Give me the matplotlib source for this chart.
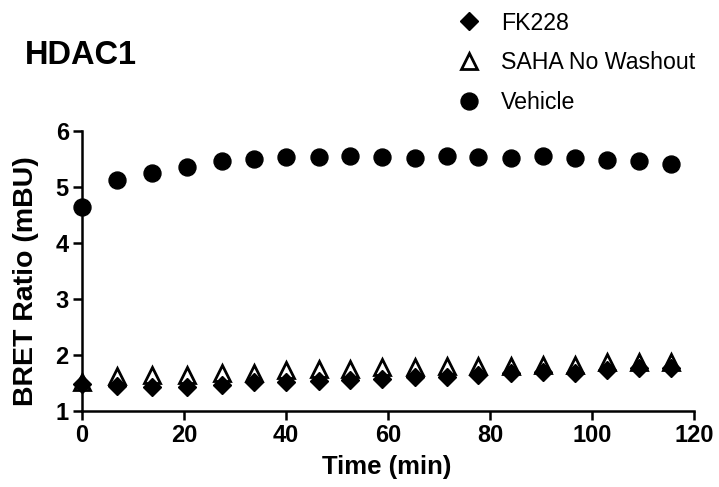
import matplotlib
matplotlib.use("Agg")
import matplotlib.pyplot as plt
from matplotlib.lines import Line2D

plt.rcParams['font.family'] = ['Liberation Sans', 'DejaVu Sans']

# data
time_min = [0, 6.9, 13.7, 20.6, 27.4, 33.8, 40.0, 46.4, 52.6, 58.9,
            65.3, 71.5, 77.7, 84.1, 90.4, 96.6, 102.9, 109.2, 115.5]
fk228 = [1.49, 1.45, 1.43, 1.43, 1.46, 1.51, 1.52, 1.53, 1.55, 1.58,
         1.61, 1.61, 1.65, 1.67, 1.70, 1.67, 1.73, 1.77, 1.77]
saha = [1.51, 1.62, 1.65, 1.65, 1.68, 1.68, 1.73, 1.75, 1.75, 1.79,
        1.79, 1.81, 1.81, 1.81, 1.83, 1.83, 1.87, 1.87, 1.87]
vehicle = [4.65, 5.12, 5.25, 5.36, 5.46, 5.50, 5.54, 5.53, 5.545, 5.53,
           5.52, 5.56, 5.53, 5.51, 5.55, 5.52, 5.49, 5.46, 5.41]

x_ticks = [0, 20, 40, 60, 80, 100, 120]
y_ticks = [1, 2, 3, 4, 5, 6]

W, H = 719, 487
fig = plt.figure(figsize=(W / 100, H / 100), dpi=100)
ax = fig.add_axes([82 / W, 1 - 411 / H, (694 - 82) / W, (411 - 131) / H])

# triangles first, diamonds on top, then circles
ax.plot(time_min, saha, linestyle='none', marker='^', ms=12,
        mfc='white', mec='black', mew=2, clip_on=False, zorder=3)
ax.plot(time_min, fk228, linestyle='none', marker='D', ms=9,
        mfc='black', mec='black', clip_on=False, zorder=4)
ax.plot(time_min, vehicle, linestyle='none', marker='o', ms=12.2,
        mfc='black', mec='black', clip_on=False, zorder=5)

ax.set_xlim(0, 120)
ax.set_ylim(1, 6)
ax.set_xticks(x_ticks)
ax.set_yticks(y_ticks)
for s in ['top', 'right']:
    ax.spines[s].set_visible(False)
for s in ['left', 'bottom']:
    ax.spines[s].set_linewidth(1.8)
ax.tick_params(axis='both', width=1.8, length=6.5, labelsize=17, pad=3)
for lab in ax.get_xticklabels() + ax.get_yticklabels():
    lab.set_fontweight('bold')

fig.text(26 / W, 1 - 281 / H, 'BRET Ratio (mBU)', rotation=90,
         ha='center', va='center', fontsize=20.5, fontweight='bold')
fig.text(387 / W, 1 - 467 / H, 'Time (min)', ha='center', va='center',
         fontsize=18.5, fontweight='bold')
fig.text(25 / W, 1 - 55 / H, 'HDAC1', ha='left', va='center',
         fontsize=23.5, fontweight='bold')

handles = [
    Line2D([], [], linestyle='none', marker='D', ms=9, mfc='black', mec='black'),
    Line2D([], [], linestyle='none', marker='^', ms=12, mfc='white', mec='black', mew=2),
    Line2D([], [], linestyle='none', marker='o', ms=12.2, mfc='black', mec='black'),
]
fig.legend(handles, ['FK228', 'SAHA No Washout', 'Vehicle'],
           loc='upper left', bbox_to_anchor=(443 / W, 1.0),
           frameon=False, fontsize=16.7, handlelength=1.2, handletextpad=0.8,
           labelspacing=0.72, borderpad=0)

fig.savefig('out.png', dpi=100)
